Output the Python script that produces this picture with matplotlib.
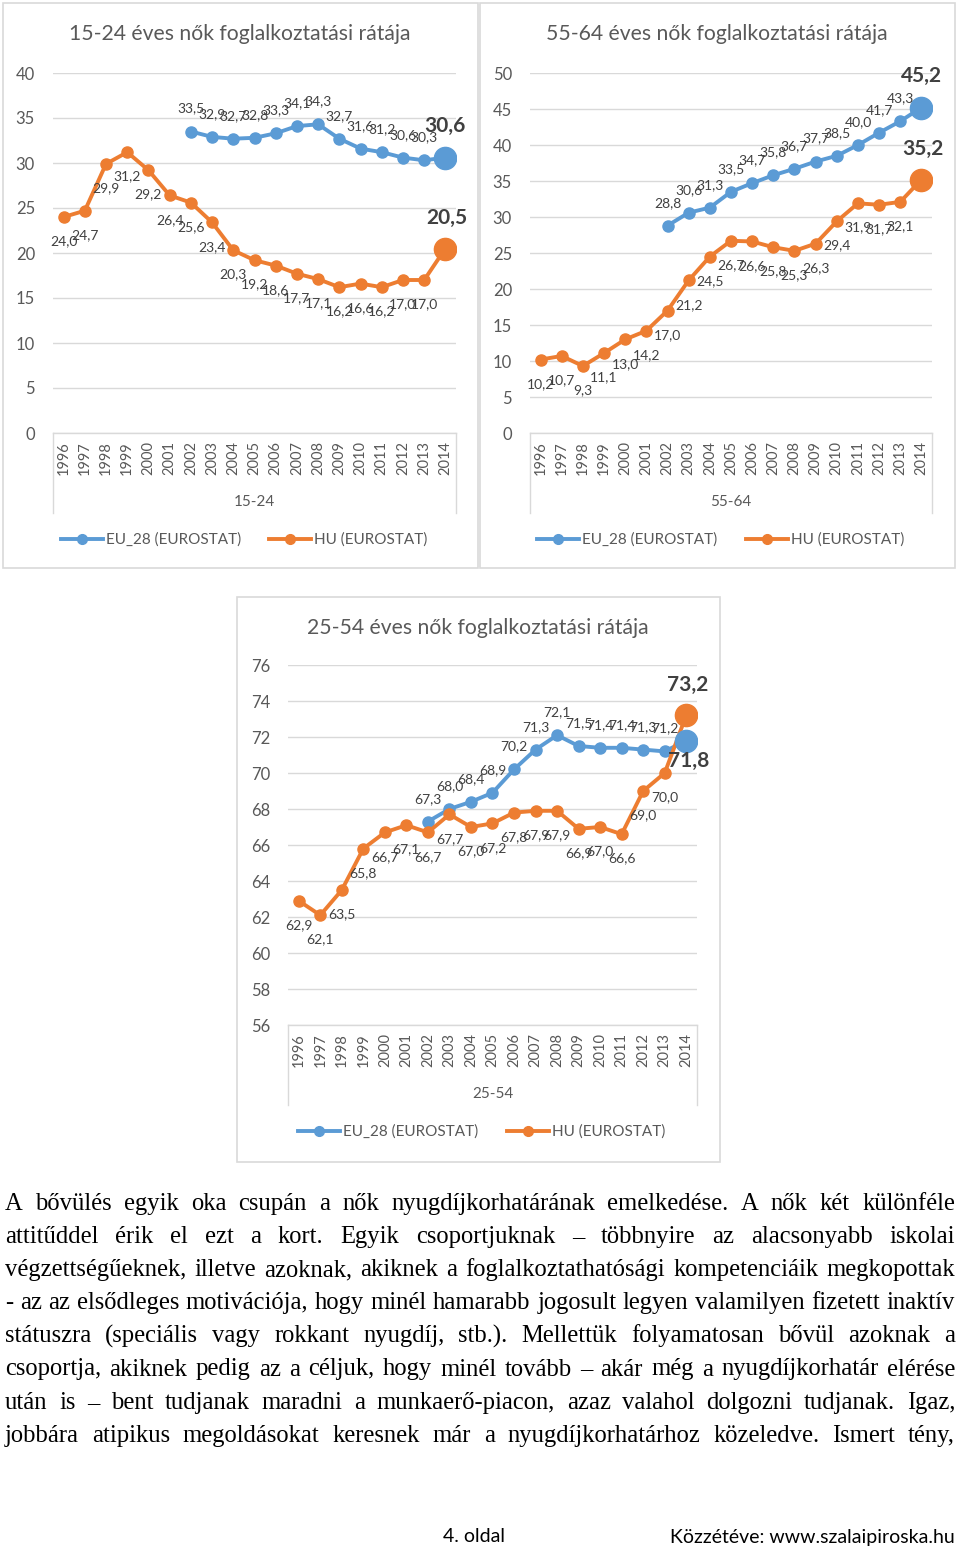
import matplotlib
matplotlib.use("Agg")
import matplotlib.pyplot as plt
from matplotlib.patches import Rectangle
from matplotlib.lines import Line2D

# adatok (Eurostat, nők foglalkoztatási rátája, %)
years = list(range(1996, 2015))
eu_years = list(range(2002, 2015))

hu_15_24 = [24.0, 24.7, 29.9, 31.2, 29.2, 26.4, 25.6, 23.4, 20.3, 19.2,
            18.6, 17.7, 17.1, 16.2, 16.6, 16.2, 17.0, 17.0, 20.5]
eu_15_24 = [33.5, 32.9, 32.7, 32.8, 33.3, 34.1, 34.3, 32.7, 31.6, 31.2,
            30.6, 30.3, 30.6]

hu_55_64 = [10.2, 10.7, 9.3, 11.1, 13.0, 14.2, 17.0, 21.2, 24.5, 26.7,
            26.6, 25.8, 25.3, 26.3, 29.4, 31.9, 31.7, 32.1, 35.2]
eu_55_64 = [28.8, 30.6, 31.3, 33.5, 34.7, 35.8, 36.7, 37.7, 38.5, 40.0,
            41.7, 43.3, 45.2]

hu_25_54 = [62.9, 62.1, 63.5, 65.8, 66.7, 67.1, 66.7, 67.7, 67.0, 67.2,
            67.8, 67.9, 67.9, 66.9, 67.0, 66.6, 69.0, 70.0, 73.2]
eu_25_54 = [67.3, 68.0, 68.4, 68.9, 70.2, 71.3, 72.1, 71.5, 71.4, 71.4,
            71.3, 71.2, 71.8]

series_names = ["EU_28 (EUROSTAT)", "HU (EUROSTAT)"]

paragraph = [
    "A bővülés egyik oka csupán a nők nyugdíjkorhatárának emelkedése. A nők két különféle",
    "attitűddel érik el ezt a kort. Egyik csoportjuknak – többnyire az alacsonyabb iskolai",
    "végzettségűeknek, illetve azoknak, akiknek a foglalkoztathatósági kompetenciáik megkopottak",
    "- az az elsődleges motivációja, hogy minél hamarabb jogosult legyen valamilyen fizetett inaktív",
    "státuszra (speciális vagy rokkant nyugdíj, stb.). Mellettük folyamatosan bővül azoknak a",
    "csoportja, akiknek pedig az a céljuk, hogy minél tovább – akár még a nyugdíjkorhatár elérése",
    "után is – bent tudjanak maradni a munkaerő-piacon, azaz valahol dolgozni tudjanak. Igaz,",
    "jobbára atipikus megoldásokat keresnek már a nyugdíjkorhatárhoz közeledve. Ismert tény,",
]

BLUE = "#5B9BD5"
ORANGE = "#ED7D31"
GRID = "#D9D9D9"
TXT = "#595959"
LBL = "#404040"
FONT = "Lato"

W, H = 960, 1549
fig = plt.figure(figsize=(W / 100, H / 100), dpi=100)
fig.patch.set_facecolor("white")


def frame(x0, y0, x1, y1):
    fig.add_artist(Rectangle((x0 / W, 1 - y1 / H), (x1 - x0) / W, (y1 - y0) / H,
                             transform=fig.transFigure, fill=False,
                             edgecolor=GRID, lw=1.2))


def fmt(v):
    return f"{v:.1f}".replace(".", ",")


def chart(box, plot, title, group, eu, hu, ylim, step, eu_last_below=False):
    frame(*box)
    x0, y0, x1, y1 = plot
    ax = fig.add_axes([x0 / W, 1 - y1 / H, (x1 - x0) / W, (y1 - y0) / H])

    xs = list(range(len(years)))
    eu_x = [years.index(y) for y in eu_years]

    ax.plot(eu_x, eu, color=BLUE, lw=2.8, marker="o", ms=8, zorder=3,
            solid_capstyle="round")
    ax.plot(xs, hu, color=ORANGE, lw=2.8, marker="o", ms=8, zorder=3,
            solid_capstyle="round")
    ax.plot(eu_x[-1], eu[-1], "o", color=BLUE, ms=16, zorder=4)
    ax.plot(xs[-1], hu[-1], "o", color=ORANGE, ms=16, zorder=4)

    # adatcímkék: EU fölött, HU alatt
    for i, v in zip(eu_x[:-1], eu[:-1]):
        ax.annotate(fmt(v), (i, v), xytext=(0, 16.5), textcoords="offset points",
                    ha="center", va="center", fontsize=10, color=LBL,
                    family=FONT, zorder=5)
    for i, v in zip(xs[:-1], hu[:-1]):
        ax.annotate(fmt(v), (i, v), xytext=(0, -17.5), textcoords="offset points",
                    ha="center", va="center", fontsize=10, color=LBL,
                    family=FONT, zorder=5)
    ax.annotate(fmt(eu[-1]), (eu_x[-1], eu[-1]),
                xytext=(2, -15) if eu_last_below else (0, 23),
                textcoords="offset points", ha="center", va="center",
                fontsize=15, fontweight="bold", color=LBL, family=FONT, zorder=5)
    ax.annotate(fmt(hu[-1]), (xs[-1], hu[-1]), xytext=(1, 22),
                textcoords="offset points", ha="center", va="center",
                fontsize=15, fontweight="bold", color=LBL, family=FONT, zorder=5)

    ax.set_xlim(-0.5, len(years) - 0.5)
    ax.set_ylim(*ylim)
    ax.set_yticks(range(ylim[0], ylim[1] + 1, step))
    ax.set_xticks(xs)
    ax.set_xticklabels(years, rotation=90, family=FONT, fontsize=10.5, color=TXT)
    for t in ax.get_yticklabels():
        t.set_family(FONT)
        t.set_fontsize(12)
        t.set_color(TXT)
    ax.tick_params(length=0, pad=6)
    ax.tick_params(axis="y", pad=13)
    ax.grid(axis="y", color=GRID, lw=1, zorder=0)
    ax.set_axisbelow(True)
    for s in ax.spines.values():
        s.set_visible(False)

    # kategória-tengely doboza
    for xb in (0, 1):
        ax.add_line(Line2D([xb, xb], [0, -0.222], transform=ax.transAxes,
                           color=GRID, lw=1, clip_on=False))
    ax.add_line(Line2D([0, 1], [0, 0], transform=ax.transAxes,
                       color=GRID, lw=1, clip_on=False))
    ax.text(0.5, -0.192, group, transform=ax.transAxes, ha="center", va="center",
            fontsize=11, color=TXT, family=FONT)

    fig.text(((box[0] + box[2]) / 2 - 1) / W, 1 - (box[1] + 31) / H, title,
             ha="center", va="center", fontsize=15.2, color=TXT, family=FONT)

    handles = [Line2D([], [], color=BLUE, lw=2.8, marker="o", ms=7),
               Line2D([], [], color=ORANGE, lw=2.8, marker="o", ms=7)]
    ax.legend(handles, series_names, loc="center", bbox_to_anchor=(0.474, -0.297),
              ncol=2, frameon=False, handlelength=2.75, handletextpad=0.2,
              columnspacing=1.85, prop={"family": FONT, "size": 11},
              labelcolor=TXT)
    return ax


chart((3, 3, 478, 568), (53, 73, 456, 433),
      "15-24 éves nők foglalkoztatási rátája", "15-24",
      eu_15_24, hu_15_24, (0, 40), 5)
chart((480, 3, 955, 568), (530, 73, 932, 433),
      "55-64 éves nők foglalkoztatási rátája", "55-64",
      eu_55_64, hu_55_64, (0, 50), 5)
chart((237, 597, 720, 1162), (288, 665, 697, 1025),
      "25-54 éves nők foglalkoztatási rátája", "25-54",
      eu_25_54, hu_25_54, (56, 76), 2, eu_last_below=True)

# sorkizárt szöveg
renderer = fig.canvas.get_renderer()


def width_px(s, size):
    t = fig.text(0, 0, s, fontsize=size, family="Liberation Serif")
    w = t.get_window_extent(renderer).width
    t.remove()
    return w


left, right = 5, 955
widest = max(width_px(line, 20) for line in paragraph)
size = min(18.5, 20 * (right - left) / widest * 0.995)
for n, line in enumerate(paragraph):
    words = line.split(" ")
    widths = [width_px(w, size) for w in words]
    gap = (right - left - sum(widths)) / (len(words) - 1)
    x = left
    base = 1210 + n * 33.1
    for w, wd in zip(words, widths):
        fig.text(x / W, 1 - base / H, w, fontsize=size, family="Liberation Serif",
                 color="black", va="baseline", ha="left")
        x += wd + gap

fig.text(474 / W, 1 - 1537 / H, "4. oldal", ha="center", va="center",
         fontsize=14, family=FONT, color="black")
fig.text(955 / W, 1 - 1537 / H, "Közzétéve: www.szalaipiroska.hu", ha="right",
         va="center", fontsize=14, family=FONT, color="black")

fig.savefig("out.png", dpi=100, facecolor="white")
